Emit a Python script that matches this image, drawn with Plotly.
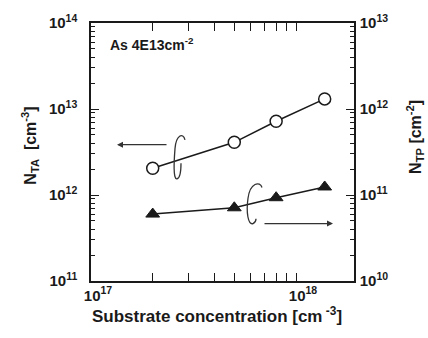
import plotly.graph_objects as go

# ---- data ----
substrate_conc = [2e17, 5e17, 8e17, 1.38e18]
n_ta = [2.05e12, 4.1e12, 7.2e12, 1.31e13]     # left axis, cm^-3
n_tp = [6.0e10, 7.1e10, 9.3e10, 1.24e11]      # right axis, cm^-2

x_major = [1e17, 1e18]
x_major_text = ["<b>10<sup>17</sup></b>", "<b>10<sup>18</sup></b>"]
y_major = [1e11, 1e12, 1e13, 1e14]
y_major_text = ["<b>10<sup>11</sup></b>", "<b>10<sup>12</sup></b>",
                "<b>10<sup>13</sup></b>", "<b>10<sup>14</sup></b>"]
y2_major = [1e10, 1e11, 1e12, 1e13]
y2_major_text = ["<b>10<sup>10</sup></b>", "<b>10<sup>11</sup></b>",
                 "<b>10<sup>12</sup></b>", "<b>10<sup>13</sup></b>"]

W, H = 428, 338
L, R, T, B = 91, 74, 16, 57
PW, PH = W - L - R, H - T - B

def px(xp, yp):
    return (xp - L) / PW, (H - B - yp) / PH

def minors(decades):
    return [m * 10 ** d for d in decades for m in range(2, 10)]

FONT = "Liberation Sans, Arial, sans-serif"
INK = "#1a1a1a"

fig = go.Figure()
fig.add_trace(go.Scatter(
    x=substrate_conc, y=n_ta, mode="lines+markers",
    line=dict(color=INK, width=1.5),
    marker=dict(symbol="circle", size=12, color="white", line=dict(color=INK, width=1.5)),
    showlegend=False))
fig.add_trace(go.Scatter(
    x=substrate_conc, y=n_tp, mode="lines+markers", yaxis="y2",
    line=dict(color=INK, width=1.5),
    marker=dict(symbol="triangle-up", size=12, color=INK, line=dict(color=INK, width=1)),
    showlegend=False))

tickfont = dict(family=FONT, size=15, color=INK)
common = dict(type="log", showgrid=False, zeroline=False, showline=True,
              linecolor=INK, linewidth=1.5, ticks="inside", tickcolor=INK,
              tickwidth=1.2, ticklen=8, tickfont=tickfont, tickmode="array")

fig.update_layout(
    width=W, height=H, margin=dict(l=L, r=R, t=T, b=B),
    paper_bgcolor="white", plot_bgcolor="white",
    xaxis=dict(**common, range=[17, 17 + PW / 205], mirror="allticks",
               tickvals=x_major, ticktext=x_major_text, ticklabelshift=7,
               minor=dict(ticks="inside", ticklen=4, tickcolor=INK, tickwidth=1.2,
                          tickmode="array", tickvals=minors([17]))),
    yaxis=dict(**common, range=[11, 14], tickvals=y_major, ticktext=y_major_text,
               ticklabelstandoff=9,
               minor=dict(ticks="inside", ticklen=4, tickcolor=INK, tickwidth=1.2,
                          tickmode="array", tickvals=minors([11, 12, 13]))),
    yaxis2=dict(**common, range=[10, 13], overlaying="y", side="right",
                tickvals=y2_major, ticktext=y2_major_text, ticklabelstandoff=1,
                minor=dict(ticks="inside", ticklen=4, tickcolor=INK, tickwidth=1.2,
                           tickmode="array", tickvals=minors([10, 11, 12]))),
)

title_font = dict(family=FONT, size=16, color=INK)
def label(xp, yp, text, angle=0, font=title_font, xanchor="center"):
    x0, y0 = px(xp, yp)
    fig.add_annotation(x=x0, y=y0, xref="paper", yref="paper", showarrow=False,
                       xanchor=xanchor, yanchor="middle", text=text,
                       textangle=angle, font=font)

label(30, 142, "<b>N<sub>TA</sub>  [cm<sup>-3</sup>]</b>", angle=-90)
label(415, 133, "<b>N<sub>TP</sub> [cm<sup>-2</sup>]</b>", angle=-90)
label(217, 316, "<b>Substrate concentration [cm<sup> -3</sup>]</b>",
      font=dict(family=FONT, size=17, color=INK))
label(108, 38, "<b>As 4E13cm<sup>-2</sup></b>",
      font=dict(family=FONT, size=14, color=INK), xanchor="left")

# arrows
ARROW = "#333333"
x0, y0 = px(117, 141)
fig.add_annotation(x=x0, y=y0, xref="paper", yref="paper", ax=51, ay=0,
                   showarrow=True, arrowhead=2, arrowsize=1.0, arrowwidth=1.2,
                   arrowcolor=ARROW, text="")
x0, y0 = px(333, 222)
fig.add_annotation(x=x0, y=y0, xref="paper", yref="paper", ax=-70, ay=0,
                   showarrow=True, arrowhead=2, arrowsize=1.0, arrowwidth=1.2,
                   arrowcolor=ARROW, text="")

# curly loops
def path_from(segments):
    parts = []
    for cmd, pts in segments:
        coords = " ".join("%.4f,%.4f" % px(a, b) for a, b in pts)
        parts.append(cmd + " " + coords)
    return " ".join(parts)

left_loop = path_from([
    ("M", [(185, 136)]),
    ("C", [(183, 128), (176, 131), (175, 145)]),
    ("C", [(174, 158), (173, 177), (177, 176)]),
    ("C", [(181, 175), (181, 166), (181, 160)]),
])
right_loop = path_from([
    ("M", [(262, 185)]),
    ("C", [(260, 178), (250, 180), (248, 196)]),
    ("C", [(246, 210), (248, 224), (253, 222)]),
    ("C", [(255, 221), (256, 219), (256, 217)]),
])
for p in (left_loop, right_loop):
    fig.add_shape(type="path", path=p, xref="paper", yref="paper",
                  line=dict(color=ARROW, width=1.3))

fig.write_html("out.html")
